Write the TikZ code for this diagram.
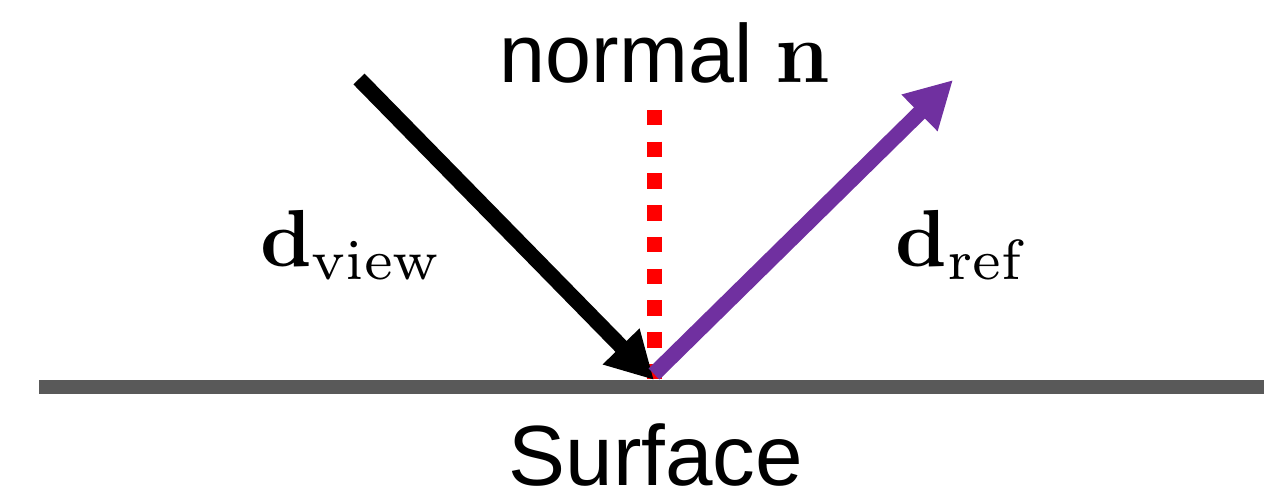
\documentclass[tikz,border=0pt]{standalone}
\usepackage[no-math]{fontspec}
\newfontfamily\arialfont{Liberation Sans}
\usepackage{tikz}
\usetikzlibrary{arrows.meta}
\definecolor{normalRed}{HTML}{FF0000}
\definecolor{refPurple}{HTML}{7030A0}
\definecolor{surfGray}{HTML}{595959}

\begin{document}
\begin{tikzpicture}[
    x=0.01cm, y=-0.01cm,
    textlabel/.style={inner sep=0pt, anchor=base, font=\fontsize{23.5}{28}\selectfont\arialfont},
    vecLabel/.style={inner sep=0pt, anchor=base, font=\normalsize, scale=2.3},
    arrow/.style={-{Triangle[length=4.7mm, width=4.8mm]}, line width=1.55mm},
    normalline/.style={normalRed, line width=1.5mm, dash pattern=on 1.55mm off 1.62mm}
]
\useasboundingbox (0,0) rectangle (1264,492);

% points on the surface
\coordinate (hit) at (654,380);
\coordinate (viewStart) at (359,79);
\coordinate (refStart) at (654,374);
\coordinate (refTip) at (953,80);
\coordinate (normalTop) at (654,110);
\coordinate (surfL) at (39,387);
\coordinate (surfR) at (1264,387);

% labels
\node[textlabel] (normal) at (665,83) {normal $\mathbf{n}$};
\node[textlabel, font=\fontsize{24.3}{29}\selectfont\arialfont] (surface) at (656,486) {Surface};
\node[vecLabel] (dview) at (352,267) {$\mathbf{d}_{\mathrm{view}}$};
\node[vecLabel] (dref) at (963,267) {$\mathbf{d}_{\mathrm{ref}}$};

% normal and surface
\draw[normalline] (normalTop) -- (hit);
\draw[surfGray, line width=1.4mm] (surfL) -- (surfR);

% incoming and reflected directions
\draw[arrow, black] (viewStart) -- (hit);
\draw[arrow, refPurple] (refStart) -- (refTip);

\end{tikzpicture}
\end{document}
